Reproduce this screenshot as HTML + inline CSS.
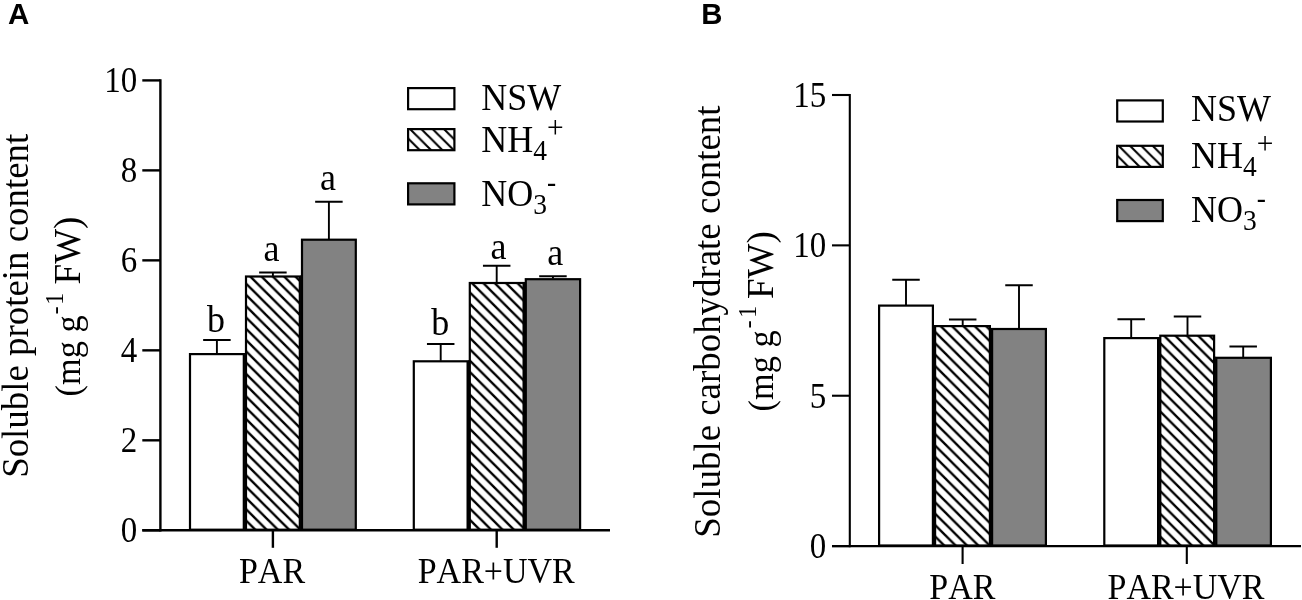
<!DOCTYPE html>
<html><head><meta charset="utf-8"><title>Figure</title>
<style>
html,body{margin:0;padding:0;background:#fff;}
body{width:1302px;height:600px;overflow:hidden;font-family:"Liberation Serif", serif;}
svg{display:block;will-change:transform;}
svg text{font-family:"Liberation Serif", serif;fill:#000;font-kerning:none;}
</style></head><body>
<svg width="1302" height="600" viewBox="0 0 1302 600">
<defs>
<pattern id="h0" patternUnits="userSpaceOnUse" width="11.28" height="11.28" x="7.60" y="0"><rect width="11.28" height="11.28" fill="#fff"/><path d="M-11.28 -11.28 L22.55 22.55 M-11.28 0 L11.28 22.55 M0 -11.28 L22.55 11.28" stroke="#000" stroke-width="2.35" fill="none"/></pattern>
<pattern id="h1" patternUnits="userSpaceOnUse" width="11.37" height="11.37" x="6.94" y="0"><rect width="11.37" height="11.37" fill="#fff"/><path d="M-11.37 -11.37 L22.74 22.74 M-11.37 0 L11.37 22.74 M0 -11.37 L22.74 11.37" stroke="#000" stroke-width="2.35" fill="none"/></pattern>
<pattern id="h2" patternUnits="userSpaceOnUse" width="11.31" height="11.31" x="9.54" y="0"><rect width="11.31" height="11.31" fill="#fff"/><path d="M-11.31 -11.31 L22.62 22.62 M-11.31 0 L11.31 22.62 M0 -11.31 L22.62 11.31" stroke="#000" stroke-width="2.10" fill="none"/></pattern>
<pattern id="h3" patternUnits="userSpaceOnUse" width="11.36" height="11.36" x="1.14" y="0"><rect width="11.36" height="11.36" fill="#fff"/><path d="M-11.36 -11.36 L22.72 22.72 M-11.36 0 L11.36 22.72 M0 -11.36 L22.72 11.36" stroke="#000" stroke-width="2.35" fill="none"/></pattern>
<pattern id="h4" patternUnits="userSpaceOnUse" width="11.37" height="11.37" x="9.72" y="0"><rect width="11.37" height="11.37" fill="#fff"/><path d="M-11.37 -11.37 L22.74 22.74 M-11.37 0 L11.37 22.74 M0 -11.37 L22.74 11.37" stroke="#000" stroke-width="2.35" fill="none"/></pattern>
<pattern id="h5" patternUnits="userSpaceOnUse" width="11.31" height="11.31" x="0.23" y="0"><rect width="11.31" height="11.31" fill="#fff"/><path d="M-11.31 -11.31 L22.62 22.62 M-11.31 0 L11.31 22.62 M0 -11.31 L22.62 11.31" stroke="#000" stroke-width="2.10" fill="none"/></pattern>
</defs>
<rect width="1302" height="600" fill="#fff"/>
<rect x="190.00" y="354.10" width="53.80" height="175.60" fill="#ffffff" stroke="#000" stroke-width="2.20"/>
<path d="M216.90 353.50 V340.00 M203.15 340.00 H230.65" stroke="#000" stroke-width="1.90" fill="none"/>
<text transform="translate(215.90 331.50) scale(1 1.0400)" font-size="36.00" text-anchor="middle">b</text>
<rect x="246.00" y="276.50" width="53.80" height="253.20" fill="url(#h0)" stroke="#000" stroke-width="2.20"/>
<path d="M272.90 275.90 V272.50 M259.15 272.50 H286.65" stroke="#000" stroke-width="1.90" fill="none"/>
<text transform="translate(271.60 261.40) scale(1 1.0400)" font-size="36.00" text-anchor="middle">a</text>
<rect x="302.00" y="239.70" width="53.80" height="290.00" fill="#828282" stroke="#000" stroke-width="2.20"/>
<path d="M328.90 239.10 V201.80 M315.15 201.80 H342.65" stroke="#000" stroke-width="1.90" fill="none"/>
<text transform="translate(328.10 189.80) scale(1 1.0400)" font-size="36.00" text-anchor="middle">a</text>
<rect x="413.80" y="361.30" width="53.80" height="168.40" fill="#ffffff" stroke="#000" stroke-width="2.20"/>
<path d="M440.70 360.70 V344.00 M426.95 344.00 H454.45" stroke="#000" stroke-width="1.90" fill="none"/>
<text transform="translate(440.30 335.00) scale(1 1.0400)" font-size="36.00" text-anchor="middle">b</text>
<rect x="469.80" y="283.00" width="53.80" height="246.70" fill="url(#h1)" stroke="#000" stroke-width="2.20"/>
<path d="M496.70 282.40 V265.80 M482.95 265.80 H510.45" stroke="#000" stroke-width="1.90" fill="none"/>
<text transform="translate(498.60 258.50) scale(1 1.0400)" font-size="36.00" text-anchor="middle">a</text>
<rect x="525.80" y="279.20" width="54.30" height="250.50" fill="#828282" stroke="#000" stroke-width="2.20"/>
<path d="M552.95 278.60 V276.30 M539.20 276.30 H566.70" stroke="#000" stroke-width="1.90" fill="none"/>
<text transform="translate(555.25 264.80) scale(1 1.0400)" font-size="36.00" text-anchor="middle">a</text>
<path d="M244.90 353.00 V530.30" stroke="#000" stroke-width="1.4" fill="none"/>
<path d="M300.90 275.40 V530.30" stroke="#000" stroke-width="1.4" fill="none"/>
<path d="M468.70 360.20 V530.30" stroke="#000" stroke-width="1.4" fill="none"/>
<path d="M524.70 281.90 V530.30" stroke="#000" stroke-width="1.4" fill="none"/>
<path d="M160.40 79.20 V531.50" stroke="#000" stroke-width="2.40" fill="none"/>
<path d="M142.30 530.30 H610.00" stroke="#000" stroke-width="2.40" fill="none"/>
<path d="M142.30 530.30 H160.40" stroke="#000" stroke-width="2.40" fill="none"/>
<text transform="translate(137.20 542.10) scale(1 1.1000)" font-size="33.00" text-anchor="end">0</text>
<path d="M142.30 440.32 H160.40" stroke="#000" stroke-width="2.40" fill="none"/>
<text transform="translate(137.20 452.12) scale(1 1.1000)" font-size="33.00" text-anchor="end">2</text>
<path d="M142.30 350.34 H160.40" stroke="#000" stroke-width="2.40" fill="none"/>
<text transform="translate(137.20 362.14) scale(1 1.1000)" font-size="33.00" text-anchor="end">4</text>
<path d="M142.30 260.36 H160.40" stroke="#000" stroke-width="2.40" fill="none"/>
<text transform="translate(137.20 272.16) scale(1 1.1000)" font-size="33.00" text-anchor="end">6</text>
<path d="M142.30 170.38 H160.40" stroke="#000" stroke-width="2.40" fill="none"/>
<text transform="translate(137.20 182.18) scale(1 1.1000)" font-size="33.00" text-anchor="end">8</text>
<path d="M142.30 80.40 H160.40" stroke="#000" stroke-width="2.40" fill="none"/>
<text transform="translate(137.20 92.20) scale(1 1.1000)" font-size="33.00" text-anchor="end">10</text>
<path d="M272.90 530.30 V547.80" stroke="#000" stroke-width="2.40" fill="none"/>
<text transform="translate(272.00 582.70) scale(1 1.0300)" font-size="34.00" text-anchor="middle">PAR</text>
<path d="M496.70 530.30 V547.80" stroke="#000" stroke-width="2.40" fill="none"/>
<text transform="translate(496.20 582.70) scale(1 1.0300)" font-size="34.00" text-anchor="middle">PAR+UVR</text>
<rect x="408.10" y="88.10" width="46.30" height="21.10" fill="#ffffff" stroke="#000" stroke-width="2.20"/>
<rect x="408.10" y="129.10" width="46.30" height="21.10" fill="url(#h2)" stroke="#000" stroke-width="2.20"/>
<rect x="408.10" y="183.30" width="46.30" height="21.10" fill="#828282" stroke="#000" stroke-width="2.20"/>
<text transform="translate(481.30 110.00) scale(1 1.0650)" font-size="36.00" text-anchor="start">NSW</text>
<text transform="translate(481.30 152.00) scale(1 1.0650)" font-size="36.00" text-anchor="start">NH<tspan font-size="27.50" dy="7.42">4</tspan><tspan font-size="29.50" dy="-20.66" dx="0.00">+</tspan></text>
<text transform="translate(481.30 206.00) scale(1 1.0650)" font-size="36.00" text-anchor="start">NO<tspan font-size="27.50" dy="7.42">3</tspan><tspan font-size="27.50" dy="-20.56" dx="0.00">-</tspan></text>
<text transform="translate(27.60 305.80) rotate(-90) scale(1 1.0300)" font-size="36.90" text-anchor="middle">Soluble protein content</text>
<text transform="translate(79.90 396.40) rotate(-90) scale(1 1.0300)" font-size="34.30" text-anchor="start">(mg g<tspan font-size="24.50" dy="-16.02" dx="1.00">-</tspan><tspan font-size="24.50" dx="1.20">1</tspan></text>
<text transform="translate(79.90 216.60) rotate(-90) scale(1 1.0300)" font-size="37.00" text-anchor="end">FW)</text>
<text transform="translate(8.00 24.40) scale(1 1.0300)" font-size="29.50" text-anchor="start" style="font-family:&quot;Liberation Sans&quot;, sans-serif;font-weight:bold">A</text>
<rect x="879.10" y="305.60" width="53.80" height="239.90" fill="#ffffff" stroke="#000" stroke-width="2.20"/>
<path d="M906.00 305.00 V279.80 M892.25 279.80 H919.75" stroke="#000" stroke-width="1.90" fill="none"/>
<rect x="935.10" y="326.10" width="54.80" height="219.40" fill="url(#h3)" stroke="#000" stroke-width="2.20"/>
<path d="M962.70 325.50 V319.50 M948.95 319.50 H976.45" stroke="#000" stroke-width="1.90" fill="none"/>
<rect x="992.10" y="329.00" width="53.80" height="216.50" fill="#828282" stroke="#000" stroke-width="2.20"/>
<path d="M1019.00 328.40 V285.30 M1005.25 285.30 H1032.75" stroke="#000" stroke-width="1.90" fill="none"/>
<rect x="1104.30" y="338.10" width="53.80" height="207.40" fill="#ffffff" stroke="#000" stroke-width="2.20"/>
<path d="M1131.20 337.50 V319.20 M1117.45 319.20 H1144.95" stroke="#000" stroke-width="1.90" fill="none"/>
<rect x="1160.30" y="335.70" width="53.80" height="209.80" fill="url(#h4)" stroke="#000" stroke-width="2.20"/>
<path d="M1187.50 335.10 V316.50 M1173.75 316.50 H1201.25" stroke="#000" stroke-width="1.90" fill="none"/>
<rect x="1216.30" y="357.80" width="54.60" height="187.70" fill="#828282" stroke="#000" stroke-width="2.20"/>
<path d="M1243.20 357.20 V346.50 M1229.45 346.50 H1256.95" stroke="#000" stroke-width="1.90" fill="none"/>
<path d="M934.00 325.00 V546.10" stroke="#000" stroke-width="1.4" fill="none"/>
<path d="M991.00 327.90 V546.10" stroke="#000" stroke-width="1.4" fill="none"/>
<path d="M1159.20 337.00 V546.10" stroke="#000" stroke-width="1.4" fill="none"/>
<path d="M1215.20 356.70 V546.10" stroke="#000" stroke-width="1.4" fill="none"/>
<path d="M849.80 93.95 V547.15" stroke="#000" stroke-width="2.10" fill="none"/>
<path d="M832.00 546.10 H1301.00" stroke="#000" stroke-width="2.10" fill="none"/>
<path d="M832.00 546.10 H849.80" stroke="#000" stroke-width="2.10" fill="none"/>
<text transform="translate(826.20 557.90) scale(1 1.1000)" font-size="33.00" text-anchor="end">0</text>
<path d="M832.00 395.73 H849.80" stroke="#000" stroke-width="2.10" fill="none"/>
<text transform="translate(826.20 407.53) scale(1 1.1000)" font-size="33.00" text-anchor="end">5</text>
<path d="M832.00 245.37 H849.80" stroke="#000" stroke-width="2.10" fill="none"/>
<text transform="translate(826.20 257.17) scale(1 1.1000)" font-size="33.00" text-anchor="end">10</text>
<path d="M832.00 95.00 H849.80" stroke="#000" stroke-width="2.10" fill="none"/>
<text transform="translate(826.20 106.80) scale(1 1.1000)" font-size="33.00" text-anchor="end">15</text>
<path d="M962.60 546.10 V564.00" stroke="#000" stroke-width="2.10" fill="none"/>
<text transform="translate(962.30 598.80) scale(1 1.0300)" font-size="34.00" text-anchor="middle">PAR</text>
<path d="M1186.80 546.10 V564.00" stroke="#000" stroke-width="2.10" fill="none"/>
<text transform="translate(1186.00 598.80) scale(1 1.0300)" font-size="34.00" text-anchor="middle">PAR+UVR</text>
<rect x="1117.20" y="100.40" width="45.60" height="21.10" fill="#ffffff" stroke="#000" stroke-width="2.20"/>
<rect x="1117.20" y="145.80" width="45.60" height="21.10" fill="url(#h5)" stroke="#000" stroke-width="2.20"/>
<rect x="1117.20" y="200.00" width="45.60" height="21.10" fill="#828282" stroke="#000" stroke-width="2.20"/>
<text transform="translate(1191.00 121.20) scale(1 1.0650)" font-size="36.00" text-anchor="start">NSW</text>
<text transform="translate(1191.00 168.00) scale(1 1.0650)" font-size="36.00" text-anchor="start">NH<tspan font-size="27.50" dy="7.42">4</tspan><tspan font-size="29.50" dy="-20.66" dx="0.00">+</tspan></text>
<text transform="translate(1191.00 222.20) scale(1 1.0650)" font-size="36.00" text-anchor="start">NO<tspan font-size="27.50" dy="7.42">3</tspan><tspan font-size="27.50" dy="-20.56" dx="0.00">-</tspan></text>
<text transform="translate(719.75 321.60) rotate(-90) scale(1 1.0300)" font-size="36.90" text-anchor="middle">Soluble carbohydrate content</text>
<text transform="translate(772.60 411.40) rotate(-90) scale(1 1.0300)" font-size="34.30" text-anchor="start">(mg g<tspan font-size="24.50" dy="-16.02" dx="2.00">-</tspan><tspan font-size="24.50" dx="2.40">1</tspan></text>
<text transform="translate(772.60 231.30) rotate(-90) scale(1 1.0300)" font-size="37.00" text-anchor="end">FW)</text>
<text transform="translate(701.20 24.40) scale(1 1.0300)" font-size="29.30" text-anchor="start" style="font-family:&quot;Liberation Sans&quot;, sans-serif;font-weight:bold">B</text>
</svg>
</body></html>
